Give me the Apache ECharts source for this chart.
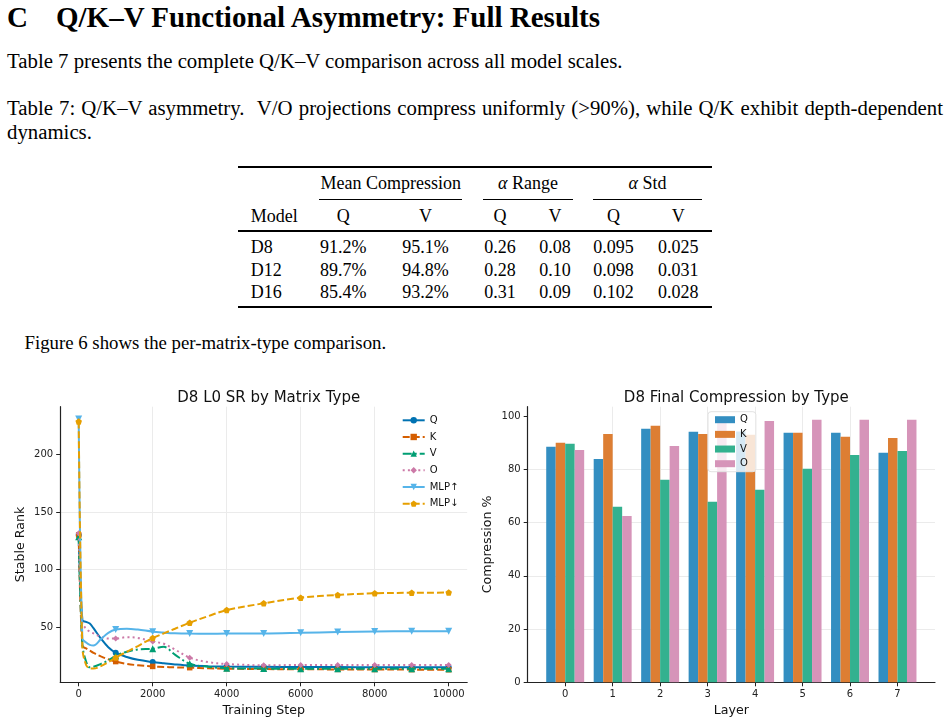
<!DOCTYPE html>
<html><head><meta charset="utf-8">
<script src="https://cdn.jsdelivr.net/npm/echarts@6/dist/echarts.min.js"></script>
<style>
html,body{margin:0;padding:0;background:#fff;width:950px;height:724px;overflow:hidden;}
.t{position:absolute;font-family:"Liberation Serif","Times New Roman",serif;color:#000;line-height:1;white-space:nowrap;}
.c{transform:translateX(-50%);}
.rule{position:absolute;background:#000;}
#chart{position:absolute;left:0;top:380px;width:950px;height:344px;}
</style></head><body>
<div class="t" style="left:7px;top:3.2px;font-size:29px;font-weight:bold;">C</div>
<div class="t" style="left:56px;top:3.2px;font-size:29px;font-weight:bold;">Q/K–V Functional Asymmetry: Full Results</div>
<div class="t" style="left:7px;top:50.9px;font-size:20.8px;">Table 7 presents the complete Q/K–V comparison across all model scales.</div>
<div class="t" style="left:7px;top:97.6px;font-size:20.8px;width:936px;white-space:normal;text-align:justify;text-align-last:justify;">Table 7: Q/K–V asymmetry. &nbsp;V/O projections compress uniformly (&gt;90%), while Q/K exhibit depth-dependent</div>
<div class="t" style="left:7px;top:121.9px;font-size:20.8px;">dynamics.</div>
<div id="tbl"></div>
<div class="t" style="left:24.5px;top:334.3px;font-size:18.8px;">Figure 6 shows the per-matrix-type comparison.</div>
<div id="chart"></div>
<script>
// ---------- table content ----------
const tableModels = ['D8', 'D12', 'D16'];
const meanCompQ = ['91.2%', '89.7%', '85.4%'];
const meanCompV = ['95.1%', '94.8%', '93.2%'];
const alphaRangeQ = ['0.26', '0.28', '0.31'];
const alphaRangeV = ['0.08', '0.10', '0.09'];
const alphaStdQ = ['0.095', '0.098', '0.102'];
const alphaStdV = ['0.025', '0.031', '0.028'];

// ---------- chart data ----------
const steps = [0, 100, 200, 300, 400, 600, 800, 1000, 1300, 1600, 2000, 2300, 2600, 3000, 3500, 4000, 5000, 6000, 7000, 8000, 9000, 10000];
const srQ    = [130, 56, 54.5, 53, 49, 40, 32.5, 27.7, 24, 21.5, 19.6, 18.5, 17.5, 16.5, 16, 15.7, 15.5, 15.3, 15.2, 15.1, 15, 15];
const srK    = [130, 33.5, 31.5, 29.5, 27.5, 24.5, 22, 20, 18, 16.8, 15.8, 15.3, 15, 14.7, 14.2, 13.8, 13.5, 13.3, 13.2, 13.1, 13, 12.9];
const srV    = [128.4, 35, 20, 15, 15.5, 18, 21, 25, 28.6, 30.6, 31.2, 32.8, 26, 18.2, 15.5, 14.3, 13.9, 13.8, 13.8, 13.8, 13.8, 13.8];
const srO    = [131.4, 54, 48.5, 46, 44.5, 41.5, 40, 40, 41.2, 40.5, 37.5, 35.5, 30.5, 23.4, 19.5, 17.9, 16.8, 17, 17, 17, 17, 17];
const srMLPu = [230.7, 40, 36.5, 34.5, 34, 39.5, 45, 47.8, 48.6, 47.8, 46, 45.2, 44.6, 44.3, 44.2, 44.3, 44.4, 45, 45.7, 46.2, 46.3, 46.4];
const srMLPd = [228.5, 32, 17, 14.2, 14, 16, 19.5, 23.5, 28.5, 33.5, 40.5, 44.5, 48.5, 53.8, 59.5, 64.7, 70.6, 75.5, 77.9, 79.3, 79.8, 79.9];
const lineNames = ['Q', 'K', 'V', 'O', 'MLP↑', 'MLP↓'];
const lineXTicks = [0, 2000, 4000, 6000, 8000, 10000];
const lineYTicks = [50, 100, 150, 200];

const layers = [0, 1, 2, 3, 4, 5, 6, 7];
const compQ = [88.5, 83.9, 95.2, 94.1, 94.2, 93.7, 93.7, 86.2];
const compK = [90.0, 93.3, 96.4, 93.3, 93.0, 93.7, 92.2, 91.8];
const compV = [89.6, 65.9, 76.1, 67.8, 72.3, 80.2, 85.4, 86.9];
const compO = [87.3, 62.5, 88.8, 98.5, 98.2, 98.6, 98.6, 98.6];
const barNames = ['Q', 'K', 'V', 'O'];
const barYTicks = [0, 20, 40, 60, 80, 100];

// ---------- build table ----------
(function () {
  const tbl = document.getElementById('tbl');
  const fs = 18, asc = 0.8375 * fs;
  function txt(s, x, base, center) {
    const d = document.createElement('div');
    d.className = 't' + (center ? ' c' : '');
    d.style.fontSize = fs + 'px';
    d.style.left = x + 'px';
    d.style.top = (base - asc) + 'px';
    d.innerHTML = s;
    tbl.appendChild(d);
  }
  function rule(x1, x2, y, h) {
    const d = document.createElement('div');
    d.className = 'rule';
    d.style.left = x1 + 'px'; d.style.width = (x2 - x1) + 'px';
    d.style.top = y + 'px'; d.style.height = h + 'px';
    tbl.appendChild(d);
  }
  rule(237.7, 711.7, 166.3, 2);
  txt('Mean Compression', 390.8, 189.3, true);
  txt('<i>α</i> Range', 528, 189.3, true);
  txt('<i>α</i> Std', 647.5, 189.3, true);
  rule(319.3, 462.3, 198.8, 1);
  rule(483, 573.3, 198.8, 1);
  rule(593.3, 701.7, 198.8, 1);
  const cols = [343.3, 425.5, 500, 555, 613.5, 678.3];
  txt('Model', 250.7, 221.7, false);
  ['Q', 'V', 'Q', 'V', 'Q', 'V'].forEach((h, i) => txt(h, cols[i], 221.7, true));
  rule(237.7, 711.7, 230.4, 1.3);
  const bases = [253.3, 275.7, 298];
  tableModels.forEach((m, r) => {
    txt(m, 250.7, bases[r], false);
    [meanCompQ, meanCompV, alphaRangeQ, alphaRangeV, alphaStdQ, alphaStdV].forEach((arr, c) => txt(arr[r], cols[c], bases[r], true));
  });
  rule(237.7, 711.7, 305.7, 2);
})();

// ---------- charts ----------
const FONT = 'DejaVu Sans';
const lineColors = ['#0072B2', '#D55E00', '#009E73', '#CC79A7', '#56B4E9', '#E69F00'];
const lineDash = ['solid', [7, 3], [9, 3, 2, 3], [2, 3.2], 'solid', [7, 3]];
const lineSymbols = ['circle', 'rect', 'triangle', 'path://M0,-1L1,0L0,1L-1,0Z', 'path://M-1,-1L1,-1L0,1Z',
  'path://M0,-1L0.951,-0.309L0.588,0.809L-0.588,0.809L-0.951,-0.309Z'];
const lineSymbolSize = [6, 5.5, 7, 6, 7, 6.5];
const barColors = ['#338EC1', '#DD7E33', '#33B18F', '#D694B9'];
const srSeries = [srQ, srK, srV, srO, srMLPu, srMLPd];
const compSeries = [compQ, compK, compV, compO];

function axisBase(extra) {
  return Object.assign({
    nameLocation: 'middle',
    nameTextStyle: { fontFamily: FONT, fontSize: 12.6, color: '#111' },
    axisLine: { show: true, onZero: false, lineStyle: { color: '#222', width: 1.2 } },
    axisTick: { show: true, inside: false, length: 4, lineStyle: { color: '#222', width: 1 } },
    axisLabel: { color: '#222', fontFamily: FONT, fontSize: 10, margin: 7, showMinLabel: false, showMaxLabel: false,
      formatter: v => String(v) },
    splitLine: { show: true, showMinLine: false, showMaxLine: false, lineStyle: { color: '#ebebeb', width: 1 } }
  }, extra);
}
function withCustom(ax, ticks) {
  ax.axisLabel = Object.assign({}, ax.axisLabel, { customValues: ticks, showMinLabel: true, showMaxLabel: true });
  ax.axisTick = Object.assign({}, ax.axisTick, { customValues: ticks });
  return ax;
}

const series = [];
srSeries.forEach((arr, k) => {
  series.push({
    type: 'line', name: lineNames[k], xAxisIndex: 0, yAxisIndex: 0,
    data: steps.map((s, i) => (s % 1000 === 0 ? [s, arr[i]] : { value: [s, arr[i]], symbol: 'none' })),
    smooth: 0.35, showSymbol: true, showAllSymbol: true,
    symbol: lineSymbols[k], symbolSize: lineSymbolSize[k],
    lineStyle: { color: lineColors[k], width: 2, type: lineDash[k] },
    itemStyle: { color: lineColors[k] },
    clip: false, z: 2 + k
  });
});
compSeries.forEach((arr, k) => {
  series.push({
    type: 'bar', name: barNames[k] + ' ', xAxisIndex: 1, yAxisIndex: 1,
    data: layers.map((l, i) => [l, arr[i]]),
    barWidth: 9.49, barGap: '0%',
    itemStyle: { color: barColors[k] }
  });
});

const option = {
  animation: false,
  backgroundColor: '#fff',
  title: [
    { text: 'D8 L0 SR by Matrix Type', left: 263.7, top: 6, textAlign: 'center',
      textStyle: { fontFamily: FONT, fontSize: 15, fontWeight: 'normal', color: '#111' } },
    { text: 'D8 Final Compression by Type', left: 731.3, top: 6, textAlign: 'center',
      textStyle: { fontFamily: FONT, fontSize: 15, fontWeight: 'normal', color: '#111' } }
  ],
  grid: [
    { left: 60.2, top: 26.7, width: 407, height: 275.6, containLabel: false },
    { left: 527.7, top: 26.7, width: 407.3, height: 275.6, containLabel: false }
  ],
  xAxis: [
    withCustom(axisBase({ type: 'value', gridIndex: 0, min: -500, max: 10500, name: 'Training Step', nameGap: 21 }), lineXTicks),
    withCustom(axisBase({ type: 'value', gridIndex: 1, min: -0.79, max: 7.79, splitNumber: 8, name: 'Layer', nameGap: 21 }), layers)
  ],
  yAxis: [
    withCustom(axisBase({ type: 'value', gridIndex: 0, min: 2, max: 241.4, name: 'Stable Rank', nameGap: 33 }), lineYTicks),
    withCustom(axisBase({ type: 'value', gridIndex: 1, min: 0, max: 103.53, name: 'Compression %', nameGap: 33 }), barYTicks)
  ],
  legend: [
    { data: lineNames, orient: 'vertical', left: 395.7, top: 32.3, itemWidth: 22, itemHeight: 8, itemGap: 6.67,
      padding: [3, 6, 3, 6], backgroundColor: 'rgba(255,255,255,0.8)', borderRadius: 3,
      textStyle: { fontFamily: FONT, fontSize: 10, color: '#111', lineHeight: 8 }, selectedMode: false },
    { data: barNames.map(n => n + ' '), orient: 'vertical', left: 708, top: 31.7, icon: 'rect', itemWidth: 20, itemHeight: 7, itemGap: 4.67,
      padding: [3, 8, 3, 7], backgroundColor: 'rgba(255,255,255,0.8)', borderColor: '#e2e2e2', borderWidth: 1, borderRadius: 3,
      formatter: n => n.trim(),
      textStyle: { fontFamily: FONT, fontSize: 10, color: '#111', lineHeight: 10 }, selectedMode: false }
  ],
  series: series
};
const chart = echarts.init(document.getElementById('chart'), null, { renderer: 'canvas' });
chart.setOption(option);
</script>
</body></html>
